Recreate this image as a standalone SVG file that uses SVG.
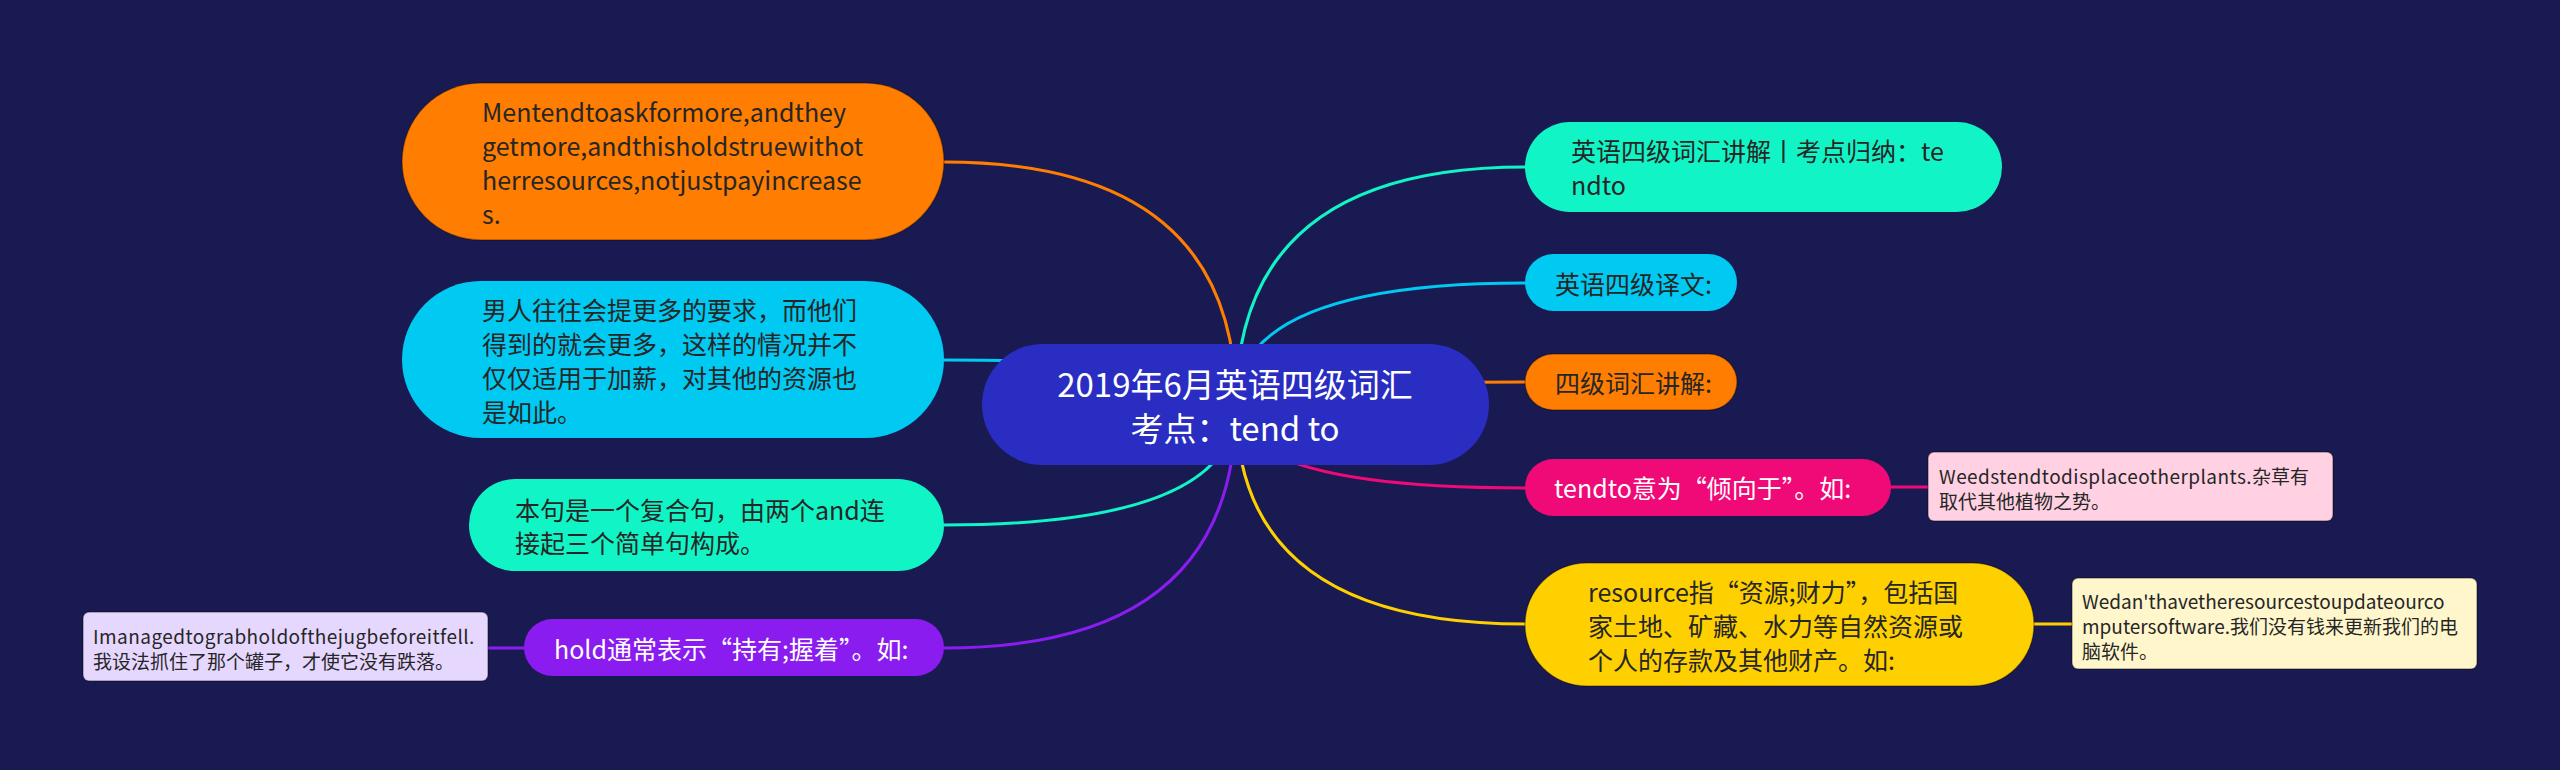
<svg xmlns="http://www.w3.org/2000/svg" width="2560" height="770" viewBox="0 0 2560 770">
<style>
text{font-family:"Noto Sans CJK SC","Noto Sans",sans-serif;dominant-baseline:central}
.t{font-size:25px;fill:#262626}
.w{font-size:25px;fill:#ffffff}
.s{font-size:19px;fill:#262626}
.ls{letter-spacing:0.45px}
.root{font-size:33px;fill:#ffffff}
.c{fill:none;stroke-width:3;stroke-linecap:round}
.bd{stroke:rgba(0,0,0,0.3);stroke-width:1.5}
.cb{stroke:rgba(0,0,0,0.35);stroke-width:1.5}
</style>
<rect x="0" y="0" width="2560" height="770" fill="#1a1a52"/>
<g id="connectors">
<path class="c" stroke="#ff7d00" d="M1236,405 Q1236,162 944,162"/>
<path class="c" stroke="#00c9f2" d="M1236,405 Q1236,360 944,360"/>
<path class="c" stroke="#11f5c6" d="M1236,405 Q1236,525 944,525"/>
<path class="c" stroke="#8a1cf0" d="M1236,405 Q1236,648 944,648"/>
<path class="c" stroke="#11f5c6" d="M1236,405 Q1236,167 1525,167"/>
<path class="c" stroke="#00c9f2" d="M1236,405 Q1236,283 1525,283"/>
<path class="c" stroke="#ff7d00" d="M1236,405 Q1236,382 1525,382"/>
<path class="c" stroke="#f00a78" d="M1236,405 Q1236,488 1525,488"/>
<path class="c" stroke="#ffd000" d="M1236,405 Q1236,624 1525,624"/>
<path class="c" stroke="#f00a78" d="M1891,487 L1928,487"/>
<path class="c" stroke="#ffd000" d="M2034,624 L2072,624"/>
<path class="c" stroke="#8a1cf0" d="M524,648 L488,648"/>
</g>
<g id="root">
<rect x="982" y="344" width="507" height="121" rx="60.5" fill="#292dc2"/>
<text class="root" x="1235" y="383" text-anchor="middle">2019年6月英语四级词汇</text>
<text class="root" x="1235" y="427" text-anchor="middle">考点：tend to</text>
</g>
<g id="L1">
<rect class="bd" x="402" y="83" width="542" height="157" rx="78.5" fill="#ff7d00"/>
<text class="t" x="482" y="111">Mentendtoaskformore,andthey</text>
<text class="t" x="482" y="145">getmore,andthisholdstruewithot</text>
<text class="t" x="482" y="179">herresources,notjustpayincrease</text>
<text class="t" x="482" y="213">s.</text>
</g>
<g id="L2">
<rect x="402" y="281" width="542" height="157" rx="78.5" fill="#00c9f2"/>
<text class="t" x="482" y="309">男人往往会提更多的要求，而他们</text>
<text class="t" x="482" y="343">得到的就会更多，这样的情况并不</text>
<text class="t" x="482" y="377">仅仅适用于加薪，对其他的资源也</text>
<text class="t" x="482" y="411">是如此。</text>
</g>
<g id="L3">
<rect x="469" y="479" width="475" height="92" rx="46" fill="#11f5c6"/>
<text class="t" x="515" y="509">本句是一个复合句，由两个and连</text>
<text class="t" x="515" y="542">接起三个简单句构成。</text>
</g>
<g id="L4">
<rect x="524" y="619" width="420" height="57" rx="28.5" fill="#8a1cf0"/>
<text class="w" x="554" y="648">hold通常表示“持有;握着”。如:</text>
</g>
<g id="L4c">
<rect class="cb" x="83" y="612" width="405" height="69" rx="6" fill="#e6d7ff"/>
<text class="s ls" x="93" y="635">Imanagedtograbholdofthejugbeforeitfell.</text>
<text class="s" x="93" y="660">我设法抓住了那个罐子，才使它没有跌落。</text>
</g>
<g id="R1">
<rect x="1525" y="122" width="477" height="90" rx="45" fill="#11f5c6"/>
<text class="t" x="1571" y="150">英语四级词汇讲解丨考点归纳：te</text>
<text class="t" x="1571" y="184">ndto</text>
</g>
<g id="R2">
<rect x="1525" y="254" width="212" height="57" rx="28.5" fill="#00c9f2"/>
<text class="t" x="1555" y="283">英语四级译文:</text>
</g>
<g id="R3">
<rect class="bd" x="1525" y="354" width="212" height="56" rx="28" fill="#ff7d00"/>
<text class="t" x="1555" y="382">四级词汇讲解:</text>
</g>
<g id="R4">
<rect x="1525" y="459" width="366" height="57" rx="28.5" fill="#f00a78"/>
<text class="w" x="1554" y="487">tendto意为“倾向于”。如:</text>
</g>
<g id="R4c">
<rect class="cb" x="1928" y="452" width="405" height="69" rx="6" fill="#ffd1e3"/>
<text class="s" x="1939" y="475"><tspan class="ls">Weedstendtodisplaceotherplants.</tspan>杂草有</text>
<text class="s" x="1939" y="500">取代其他植物之势。</text>
</g>
<g id="R5">
<rect class="bd" x="1525" y="563" width="509" height="123" rx="61.5" fill="#ffd000"/>
<text class="t" x="1588" y="591">resource指“资源;财力”，包括国</text>
<text class="t" x="1588" y="625">家土地、矿藏、水力等自然资源或</text>
<text class="t" x="1588" y="659">个人的存款及其他财产。如:</text>
</g>
<g id="R5c">
<rect class="cb" x="2072" y="578" width="405" height="91" rx="6" fill="#fff6cc"/>
<text class="s" x="2082" y="600">Wedan'thavetheresourcestoupdateourco</text>
<text class="s" x="2082" y="625">mputersoftware.我们没有钱来更新我们的电</text>
<text class="s" x="2082" y="650">脑软件。</text>
</g>
</svg>
